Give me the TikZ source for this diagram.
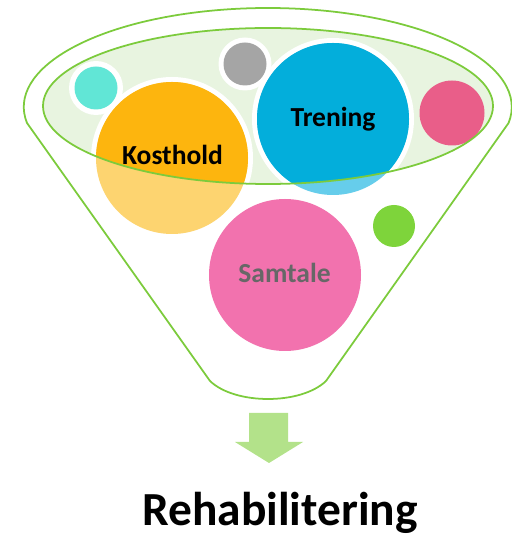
\documentclass[tikz,border=0pt]{standalone}
\usepackage{fontspec}
\setmainfont{Carlito}
\usepackage{tikz}

\definecolor{funnelgreen}{HTML}{7CCB3C}
\definecolor{bowlfill}{HTML}{E8F4E0}
\definecolor{tealdot}{HTML}{61E6D6}
\definecolor{greydot}{HTML}{A5A5A5}
\definecolor{kostdark}{HTML}{FDB50E}
\definecolor{kostlight}{HTML}{FDD470}
\definecolor{trendark}{HTML}{03AEDB}
\definecolor{trenlight}{HTML}{66CDEB}
\definecolor{rosedot}{HTML}{E95E89}
\definecolor{samtpink}{HTML}{F272AE}
\definecolor{limedot}{HTML}{7ED43B}
\definecolor{arrowgreen}{HTML}{B3E28A}
\definecolor{samttext}{HTML}{676767}

\begin{document}
\begin{tikzpicture}[x=0.03cm, y=0.03cm,
	rimline/.style={funnelgreen, line width=1.5pt},
	bubbletext/.style={font=\bfseries\fontsize{23.5}{28}\selectfont, anchor=base}]
	\useasboundingbox (0,0) rectangle (512,537);
	\coordinate (Bowl) at (268,431);
	\coordinate (Teal) at (96,449);
	\coordinate (Grey) at (245,473);
	\coordinate (Kost) at (172,379);
	\coordinate (Tren) at (333,418);
	\coordinate (Rose) at (452,424);
	\coordinate (Samt) at (285,262);
	\coordinate (Lime) at (394,311);
	\draw [rimline, fill=white] (27,414) arc [start angle=189.3, end angle=-9.3, x radius=244, y radius=99]
		-- (326,156) .. controls (301,132) and (235,132) .. (210,156) -- cycle;
	\fill [bowlfill] (Bowl) ellipse [x radius=225, y radius=78];
	\fill [white] (Teal) circle (27);
	\fill [tealdot] (Teal) circle (21.5);
	\fill [white] (Grey) circle (26.5);
	\fill [greydot] (Grey) circle (21.5);
	\fill [white] (Kost) circle (81);
	\fill [kostlight] (Kost) circle (76);
	\fill [white] (Tren) circle (81);
	\fill [trenlight] (Tren) circle (76);
	\begin{scope}
		\clip (Bowl) ellipse [x radius=225, y radius=78];
		\fill [kostdark] (Kost) circle (76);
		\fill [trendark] (Tren) circle (76);
	\end{scope}
	\fill [rosedot] (Rose) circle (32.5);
	\fill [samtpink] (Samt) circle (76);
	\fill [limedot] (Lime) circle (21);
	\draw [rimline] (Bowl) ellipse [x radius=225, y radius=78];
	\node [bubbletext] (kosthold) at (172.5,372) {Kosthold};
	\node [bubbletext] (trening) at (333,410) {Trening};
	\node [bubbletext, samttext] (samtale) at (284.5,254) {Samtale};
	\fill [arrowgreen] (249,124) -- (288,124) -- (288,95) -- (303,95) -- (269,74) -- (235,95) -- (249,95) -- cycle;
	\node [font=\bfseries\fontsize{40.5}{48}\selectfont, anchor=base] (rehab) at (280,12) {Rehabilitering};
\end{tikzpicture}
\end{document}
